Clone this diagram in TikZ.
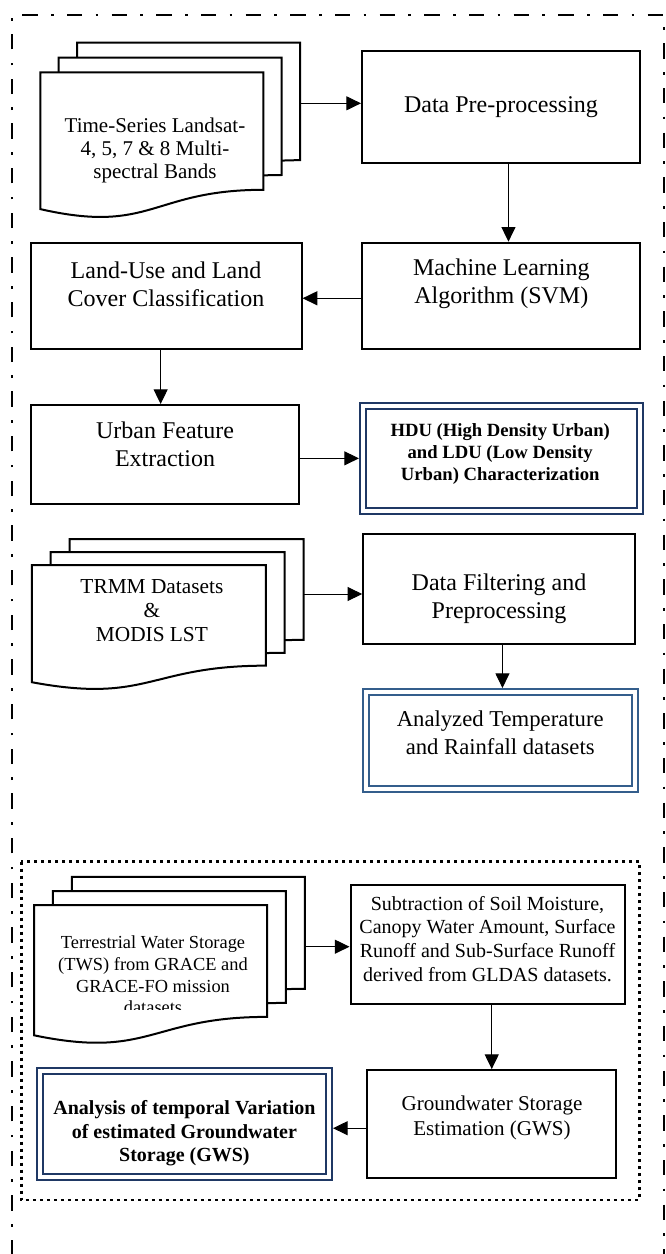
\documentclass[tikz,border=0pt]{standalone}
\usepackage{fontspec}
\setmainfont{Liberation Serif}
\usetikzlibrary{arrows.meta,calc}
\definecolor{navyb}{RGB}{31,56,100}
\definecolor{steelb}{RGB}{52,94,140}
\newcommand\fmain{\fontsize{18}{21}\selectfont}
\newcommand\fdocA{\fontsize{15.75}{17}\selectfont}
\newcommand\fdocB{\fontsize{16}{18}\selectfont}
\newcommand\fdocC{\fontsize{13.8}{16.3}\selectfont}
\newcommand\fhdu{\fontsize{14}{16.6}\selectfont\bfseries}
\newcommand\fatr{\fontsize{17}{21.3}\selectfont}
\newcommand\fgl{\fontsize{15}{17.9}\selectfont}
\newcommand\fgws{\fontsize{15.8}{18.75}\selectfont}
\newcommand\fana{\fontsize{15}{17.5}\selectfont\bfseries}
\newcommand\docsheet[4]{%
  \draw[docline] (#1,#2) -- ({#1+#3},#2) -- ({#1+#3},{#2+0.802*#4})
    .. controls ({#1+0.5*#3},{#2+0.802*#4}) and ({#1+0.5*#3},{#2+1.1075*#4}) .. (#1,{#2+0.934*#4}) -- cycle;}
\begin{document}
\begin{tikzpicture}[x=0.75pt,y=-0.75pt,
  box/.style={draw, line width=1.5pt, inner sep=0pt, align=center},
  dbox/.style={draw=#1, double=white, line width=1.5pt, double distance=3pt, inner sep=0pt, outer sep=3pt, align=center},
  docline/.style={line width=1.5pt, fill=white, line join=miter},
  arr/.style={line width=0.75pt, -{Triangle[length=11pt,width=10.5pt]}},
  txt/.style={align=center, inner sep=0pt},
  frame/.style={line width=2pt, dash pattern=on 11.5pt off 10pt on 2pt off 10pt},
  dotframe/.style={line width=2.2pt, dash pattern=on 2.4pt off 2.85pt}]
\useasboundingbox (0,0) rectangle (666,1254);
\clip (0,0) rectangle (666,1254);
% outer frame
\draw[frame] (12,1300) -- (12,15) -- (664,15) -- (664,1300);
% inner dotted frame
\draw[dotframe] (21.2,861.7) rectangle (639.3,1200);

% document stack 1
\docsheet{77}{42.7}{223}{146.5}
\docsheet{58.7}{57.5}{223}{146.5}
\docsheet{40.4}{72.3}{223}{146.5}
\node[txt, font=\fdocA] (doc1) at (155,150.5) {Time-Series Landsat-\\4, 5, 7 \& 8 Multi-\\spectral Bands};
\coordinate (d1r) at (300,103.3);

% boxes row 1-2
\node[box, minimum width=208.5pt, minimum height=84pt, font=\fmain] (dp) at (501,107) {Data Pre-processing};
\node[box, minimum width=208.35pt, minimum height=79.95pt] (ml) at (501.3,296) {};
\node[txt, font=\fmain] (mlt) at (501.3,284) {Machine Learning\\Algorithm (SVM)};
\node[box, minimum width=203.25pt, minimum height=79.95pt] (lu) at (166.1,296) {};
\node[txt, font=\fmain] (lut) at (166,284) {Land-Use and Land\\Cover Classification};
\node[box, minimum width=201.7pt, minimum height=74.5pt] (ufe) at (165,454.7) {};
\node[txt, font=\fmain] (ufet) at (165,444) {Urban Feature\\Extraction};
\node[dbox=navyb, minimum width=207.5pt, minimum height=79pt] (hdu) at (501.3,458.35) {};
\node[txt, font=\fhdu] (hdut) at (500.2,453.7) {HDU (High Density Urban)\\and LDU (Low Density\\Urban) Characterization};

% document stack 2
\docsheet{69.5}{539.2}{234}{125.5}
\docsheet{50.7}{552.1}{234}{125.5}
\docsheet{31.9}{565}{234}{125.5}
\node[txt, font=\fdocB] (doc2) at (151.9,611) {TRMM Datasets\\\&\\MODIS LST};
\coordinate (d2r) at (303.5,594);

\node[box, minimum width=203.85pt, minimum height=82.5pt] (df) at (499.1,589.3) {};
\node[txt, font=\fmain] (dft) at (499,599) {Data Filtering and\\Preprocessing};
\node[dbox=steelb, minimum width=201.7pt, minimum height=72.5pt] (atr) at (500.85,740.35) {};
\node[txt, font=\fatr] (atrt) at (500.2,732.5) {Analyzed Temperature\\and Rainfall datasets};

% document stack 3
\docsheet{71.8}{876.9}{233}{139.5}
\docsheet{52.9}{891}{233}{139.5}
\docsheet{34}{905}{233}{139.5}
\begin{scope}
\clip (20,900) rectangle (280,1009);
\node[txt, font=\fdocC] (doc3) at (153,975) {Terrestrial Water Storage\\(TWS) from GRACE and\\GRACE-FO mission\\datasets};
\end{scope}
\coordinate (d3r) at (304.8,946.7);

\node[box, minimum width=206.1pt, minimum height=89.25pt] (gl) at (487.9,944.5) {};
\node[txt, font=\fgl] (glt) at (487.5,939) {Subtraction of Soil Moisture,\\Canopy Water Amount, Surface\\Runoff and Sub-Surface Runoff\\derived from GLDAS datasets.};
\node[box, minimum width=186.4pt, minimum height=81.2pt] (gws) at (491.75,1124.2) {};
\node[txt, font=\fgws] (gwst) at (492,1117.5) {Groundwater Storage\\Estimation (GWS)};
\node[dbox=navyb, minimum width=216.7pt, minimum height=79.5pt] (ana) at (184.55,1123.7) {};
\node[txt, font=\fana] (anat) at (184.4,1133.3) {Analysis of temporal Variation\\of estimated Groundwater\\Storage (GWS)};

% connectors
\draw[arr] (d1r) -- (d1r -| dp.west);
\coordinate (a1) at ([xshift=5.6pt]dp.south);
\draw[arr] (a1) -- (a1 |- ml.north);
\coordinate (a2) at ([yshift=-1.7pt]ml.west);
\draw[arr] (a2) -- (a2 -| lu.east);
\coordinate (a3) at ([xshift=-4.1pt]lu.south);
\draw[arr] (a3) -- (a3 |- ufe.north);
\draw[arr] (ufe.east |- hdu.west) -- (hdu.west);
\draw[arr] (d2r) -- (d2r -| df.west);
\coordinate (a4) at ([xshift=1.2pt]atr.north);
\draw[arr] (a4 |- df.south) -- (a4);
\draw[arr] (d3r) -- (d3r -| gl.west);
\draw[arr] (gl.south -| gws.north) -- (gws.north);
\coordinate (a5) at ([yshift=-3pt]gws.west);
\draw[arr] (a5) -- (a5 -| ana.east);
\end{tikzpicture}
\end{document}
